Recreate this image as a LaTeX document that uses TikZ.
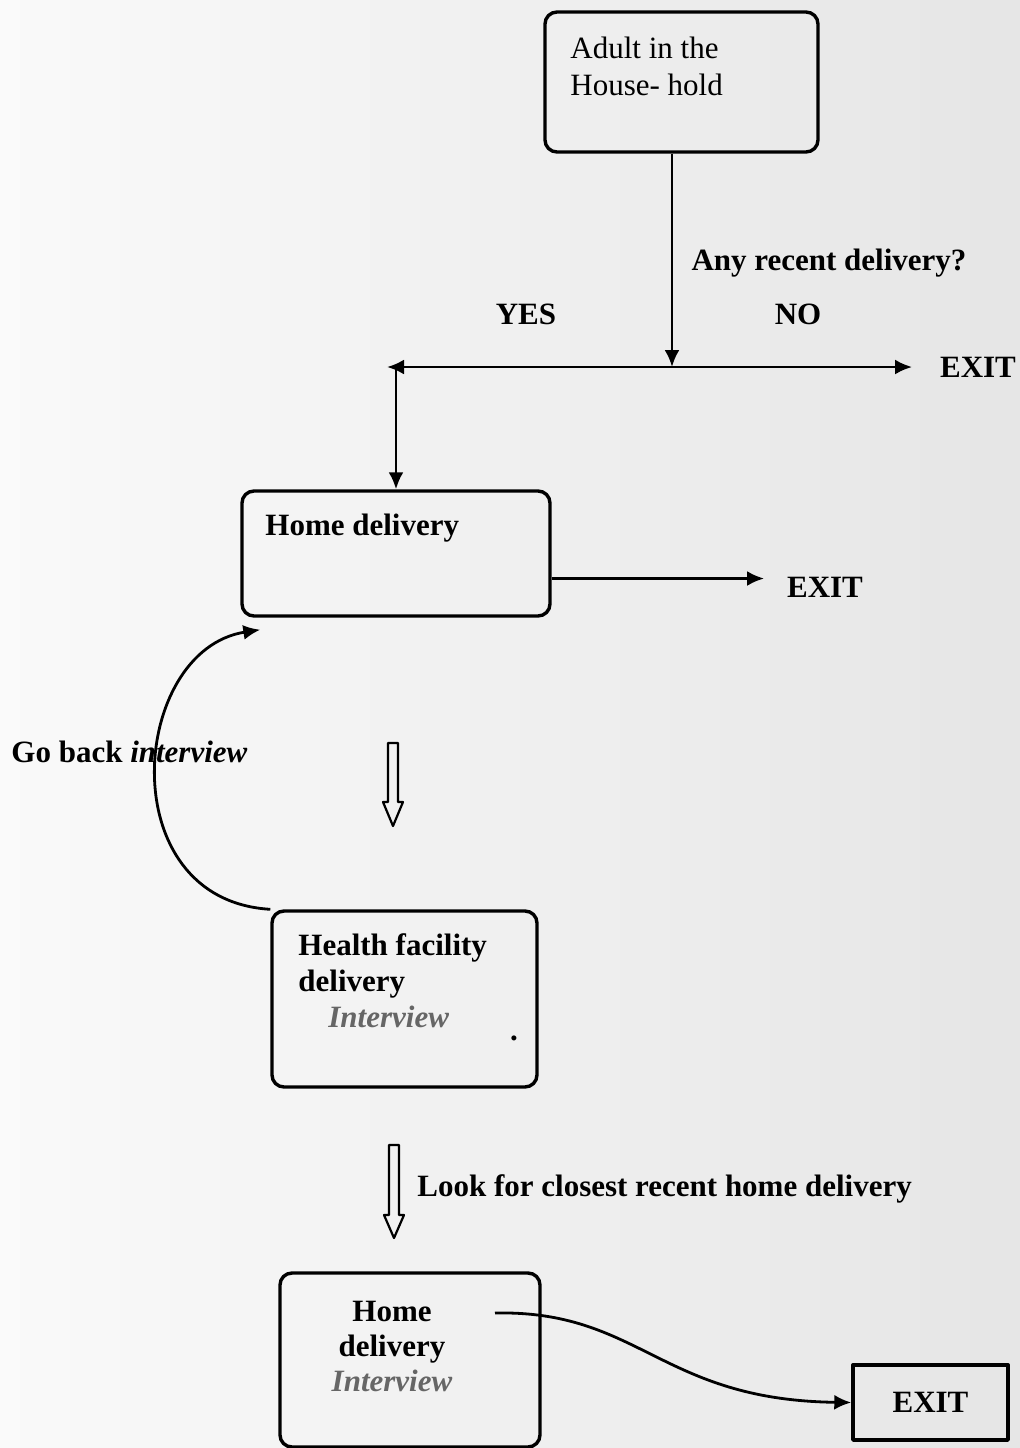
\documentclass[tikz,border=0pt]{standalone}
\usepackage{fontspec}
\setmainfont{Liberation Serif}
\usetikzlibrary{arrows.meta}

\begin{document}
\begin{tikzpicture}[
  x=0.5pt,
  y=-0.5pt,
  line join=round,
  flowbox/.style={draw=black,line width=1.7pt,rounded corners=6pt,inner sep=0pt},
  exitbox/.style={draw=black,line width=1.7pt,inner sep=0pt,
    font=\fontsize{15.5}{18}\selectfont\bfseries},
  link/.style={draw=black,line width=1.4pt,-{Latex[length=8.5pt,width=7.5pt]}},
  hollow/.style={draw=black,line width=1.1pt},
  lbl/.style={font=\fontsize{15.5}{18}\selectfont\bfseries,inner sep=0pt},
  plain/.style={font=\fontsize{15.5}{18.5}\selectfont,inner sep=0pt,align=left},
  ivw/.style={text=black!60}
]
  \useasboundingbox (0,0) rectangle (1020,1448);
  \shade[left color=black!2,right color=black!10] (0,0) rectangle (1020,1448);

  % Boxes.
  \node[flowbox,minimum width=136.5pt,minimum height=70pt] (adult) at (681.5,82) {};
  \node[flowbox,minimum width=154pt,minimum height=62.5pt] (home) at (396,553.5) {};
  \node[flowbox,minimum width=132.5pt,minimum height=88pt] (hfac) at (404.5,999) {};
  \node[flowbox,minimum width=130pt,minimum height=87pt] (home2) at (410,1360) {};
  \node[exitbox,minimum width=77.5pt,minimum height=37.5pt] (exit3) at (930.5,1402.5) {EXIT};

  % Box texts.
  \node[plain,anchor=north west] (adulttxt) at (570,37) {Adult in the\\House- hold};
  \node[lbl,anchor=base west] (hometxt) at (265,535) {Home delivery};
  \node[lbl,anchor=north west,align=left,font=\fontsize{15.5}{18}\selectfont\bfseries]
    (hfactxt) at (298,933) {Health facility\\delivery\\\hspace*{15pt}{\itshape\color{black!60}Interview}};
  \node[lbl,anchor=base] (dot) at (514,1040) {.};
  \node[lbl,anchor=north,align=center,font=\fontsize{15.5}{17.5}\selectfont\bfseries]
    (home2txt) at (392,1301) {Home\\delivery\\{\itshape\color{black!60}Interview}};

  % Labels.
  \node[lbl,anchor=base] (question) at (829,270) {Any recent delivery?};
  \node[lbl] (yes) at (526,314) {YES};
  \node[lbl] (no) at (798,314) {NO};
  \node[lbl,outer xsep=14pt] (exit1) at (978,367) {EXIT};
  \node[lbl,outer xsep=11.5pt] (exit2) at (825,587) {EXIT};
  \node[lbl,anchor=base west] (goback) at (11,762) {Go back \textit{interview}};
  \node[lbl,anchor=base west] (look) at (417,1196) {Look for closest recent home delivery};

  % Branch point.
  \coordinate (split) at (672,367);
  \coordinate (yesend) at (387,367);
  \coordinate (hd2out) at (495,1313);

  % Connectors.
  \draw[link] (adult.south -| split) -- (split);
  \draw[link] (split) -- (yesend);
  \draw[link] (split) -- (exit1.west);
  \draw[link] (home.north |- split) -- (home.north);
  \draw[link] ([yshift=-12.5pt]home.east) -- ([yshift=-12.5pt]home.east -| exit2.west);
  \draw[link] (hfac.north west) .. controls (110,900) and (130,650) .. ([xshift=10pt,yshift=-6pt]home.south west);
  \draw[link] (hd2out) .. controls (640,1310) and (660,1400) .. (exit3.west);

  % Hollow arrows.
  \foreach \cx/\ytop/\yneck/\ytip in {393/743/802/826,394/1145/1215/1238} {
    \draw[hollow] (\cx-5,\ytop) -- (\cx+5,\ytop) -- (\cx+5,\yneck) -- (\cx+10,\yneck)
      -- (\cx,\ytip) -- (\cx-10,\yneck) -- (\cx-5,\yneck) -- cycle;
  }
\end{tikzpicture}
\end{document}
